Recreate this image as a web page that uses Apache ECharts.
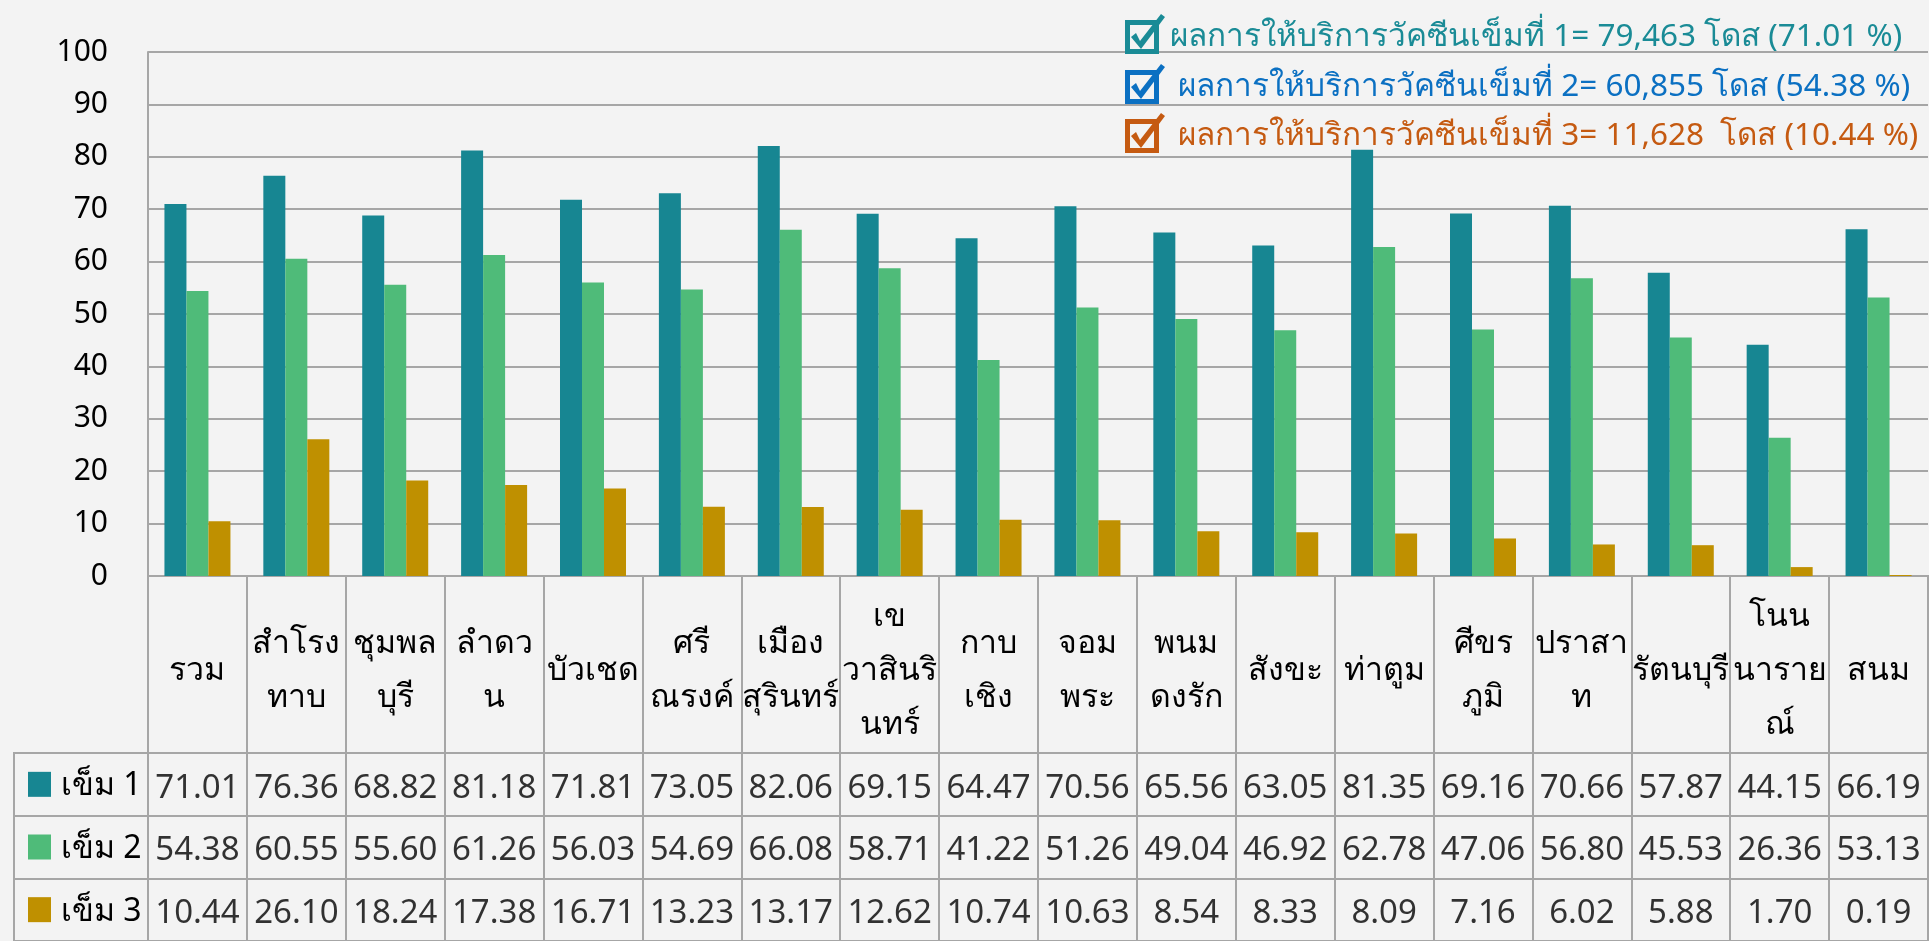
<!DOCTYPE html>
<html>
<head>
<meta charset="utf-8">
<script src="https://cdn.jsdelivr.net/npm/echarts@6/dist/echarts.min.js"></script>
<style>
html,body{margin:0;padding:0;background:#f3f3f3;}
#c{width:1929px;height:941px;}
</style>
</head>
<body>
<div id="c"></div>
<script>
// ---- data ----
var categories = ['รวม', 'สำโรง\nทาบ', 'ชุมพล\nบุรี', 'ลำดว\nน', 'บัวเชด', 'ศรี\nณรงค์', 'เมือง\nสุรินทร์', 'เข\nวาสินริ\nนทร์', 'กาบ\nเชิง', 'จอม\nพระ', 'พนม\nดงรัก', 'สังขะ', 'ท่าตูม', 'ศีขร\nภูมิ', 'ปราสา\nท', 'รัตนบุรี', 'โนน\nนาราย\nณ์', 'สนม'];
var seriesNames = ['เข็ม 1', 'เข็ม 2', 'เข็ม 3'];
var dose1 = [71.01, 76.36, 68.82, 81.18, 71.81, 73.05, 82.06, 69.15, 64.47, 70.56, 65.56, 63.05, 81.35, 69.16, 70.66, 57.87, 44.15, 66.19];
var dose2 = [54.38, 60.55, 55.60, 61.26, 56.03, 54.69, 66.08, 58.71, 41.22, 51.26, 49.04, 46.92, 62.78, 47.06, 56.80, 45.53, 26.36, 53.13];
var dose3 = [10.44, 26.10, 18.24, 17.38, 16.71, 13.23, 13.17, 12.62, 10.74, 10.63, 8.54, 8.33, 8.09, 7.16, 6.02, 5.88, 1.70, 0.19];
var summaryTexts = [
  'ผลการให้บริการวัคซีนเข็มที่ 1= 79,463 โดส (71.01 %)',
  'ผลการให้บริการวัคซีนเข็มที่ 2= 60,855 โดส (54.38 %)',
  'ผลการให้บริการวัคซีนเข็มที่ 3= 11,628  โดส (10.44 %)'
];
var yTicks = [0, 10, 20, 30, 40, 50, 60, 70, 80, 90, 100];

// ---- style ----
var barColors = ['#178692', '#4fbb79', '#bf9000'];
var legendColors = ['#1a8b96', '#0b70c2', '#c55a11'];
var gridColor = '#a6a6a6';
var FONT = "'Noto Sans', 'Liberation Sans', sans-serif";
var CHECKBOX = 'path://M0 6H34V40H0Z M5 11V35H29V11Z M6 23L11 19L15 27L36 0L40 3L16 35Z';
var allData = [dose1, dose2, dose3];

var chart = echarts.init(document.getElementById('c'), null, {renderer: 'canvas'});

var tableCells = [];
allData.forEach(function (arr, r) {
  arr.forEach(function (v, i) { tableCells.push([i, r, v]); });
});

var legendTops = [9, 59, 108];
var legendTextPad = [0, 8, 8];
var legends = [0, 1, 2].map(function (k) {
  return {
    show: true,
    selectedMode: false,
    left: 1120,
    top: legendTops[k],
    orient: 'horizontal',
    itemWidth: 40,
    itemHeight: 40,
    data: [{ name: seriesNames[k], icon: CHECKBOX, itemStyle: { color: legendColors[k], borderWidth: 0 } }],
    formatter: function (name) {
      return '{t|' + summaryTexts[seriesNames.indexOf(name)] + '}';
    },
    textStyle: {
      color: legendColors[k], fontSize: 31.5, fontFamily: FONT,
      rich: { t: { fontSize: 31.5, fontFamily: FONT, color: legendColors[k], padding: [6, 0, 0, legendTextPad[k]] } }
    }
  };
});

var option = {
  backgroundColor: '#f3f3f3',
  animation: false,
  textStyle: { fontFamily: FONT },
  legend: legends,
  grid: [
    { left: 148, right: 1, top: 52, height: 524 },
    { left: 148, right: 1, top: 576, height: 177, show: true, borderColor: gridColor, borderWidth: 2, backgroundColor: 'transparent' },
    { left: 148, right: 1, top: 753, height: 189, show: true, borderColor: gridColor, borderWidth: 2, backgroundColor: 'transparent' },
    { left: 14, width: 134, top: 753, height: 189, show: true, borderColor: gridColor, borderWidth: 2, backgroundColor: 'transparent' }
  ],
  xAxis: [
    {
      gridIndex: 0, type: 'category', data: categories,
      axisLine: { show: true, lineStyle: { color: gridColor, width: 2 } },
      axisTick: { show: false },
      axisLabel: { show: true, interval: 0, margin: 95, verticalAlign: 'middle', align: 'center', lineHeight: 54, fontSize: 32, color: '#000', fontFamily: FONT }
    },
    {
      gridIndex: 1, type: 'category', data: categories,
      axisLine: { show: false }, axisTick: { show: false }, axisLabel: { show: false },
      splitLine: { show: true, interval: 0, lineStyle: { color: gridColor, width: 2 } }
    },
    {
      gridIndex: 2, type: 'category', data: categories,
      axisLine: { show: false }, axisTick: { show: false }, axisLabel: { show: false },
      splitLine: { show: true, interval: 0, lineStyle: { color: gridColor, width: 2 } }
    },
    {
      gridIndex: 3, type: 'value', show: false
    }
  ],
  yAxis: [
    {
      gridIndex: 0, type: 'value', min: 0, max: 100, interval: 10,
      axisLine: { show: true, lineStyle: { color: gridColor, width: 2 } },
      axisTick: { show: false },
      axisLabel: { margin: 40, fontSize: 30, color: '#000', fontFamily: FONT,
        formatter: function (v) { return yTicks.indexOf(v) >= 0 ? String(v) : ''; } },
      splitLine: { show: true, lineStyle: { color: gridColor, width: 2 } }
    },
    { gridIndex: 1, type: 'value', show: false },
    {
      gridIndex: 2, type: 'category', data: seriesNames, inverse: true,
      axisLine: { show: false }, axisTick: { show: false }, axisLabel: { show: false },
      splitLine: { show: true, interval: 0, lineStyle: { color: gridColor, width: 2 } }
    },
    {
      gridIndex: 3, type: 'category', data: seriesNames, inverse: true,
      axisLine: { show: false }, axisTick: { show: false },
      axisLabel: {
        show: true, inside: true, margin: 14, fontSize: 32, color: '#000', fontFamily: FONT,
        formatter: function (v, i) { return '{s' + i + '|}{t|' + v + '}'; },
        rich: {
          s0: { backgroundColor: barColors[0], width: 23, height: 25 },
          s1: { backgroundColor: barColors[1], width: 23, height: 25 },
          s2: { backgroundColor: barColors[2], width: 23, height: 25 },
          t: { fontSize: 32, color: '#000', padding: [4, 0, 0, 10], fontFamily: FONT }
        }
      },
      splitLine: { show: true, interval: 0, lineStyle: { color: gridColor, width: 2 } }
    }
  ],
  series: [
    { name: seriesNames[0], type: 'bar', xAxisIndex: 0, yAxisIndex: 0, data: dose1, barWidth: 22, barGap: '0%', itemStyle: { color: barColors[0] } },
    { name: seriesNames[1], type: 'bar', xAxisIndex: 0, yAxisIndex: 0, data: dose2, barWidth: 22, barGap: '0%', itemStyle: { color: barColors[1] } },
    { name: seriesNames[2], type: 'bar', xAxisIndex: 0, yAxisIndex: 0, data: dose3, barWidth: 22, barGap: '0%', itemStyle: { color: barColors[2] } },
    {
      name: 'table', type: 'scatter', xAxisIndex: 2, yAxisIndex: 2, data: tableCells,
      symbolSize: 1, itemStyle: { color: 'rgba(0,0,0,0)' },
      label: { show: true, position: 'inside', offset: [0, 4], fontSize: 33, color: '#000', fontFamily: FONT,
        formatter: function (p) { return p.value[2].toFixed(2); } },
      silent: true
    }
  ]
};
chart.setOption(option);
</script>
</body>
</html>
